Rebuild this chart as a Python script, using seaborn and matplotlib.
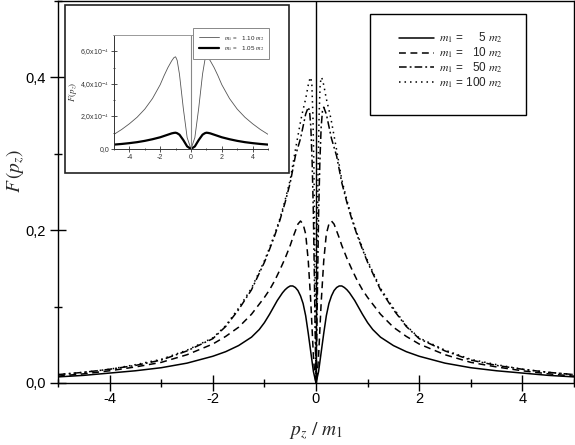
import numpy as np
import pandas as pd
import matplotlib
matplotlib.use('Agg')
import matplotlib.pyplot as plt
import seaborn as sns
from matplotlib.patches import Rectangle
from matplotlib.ticker import FuncFormatter, MultipleLocator

# main curves, p_z/m_1 >= 0 (curves are symmetric about 0)
x_m5 = [0, 0.05, 0.1, 0.15, 0.2, 0.25, 0.3, 0.35, 0.4, 0.45, 0.5, 0.55, 0.6, 0.65, 0.7,
        0.75, 0.8, 0.9, 1.0, 1.1, 1.25, 1.5, 1.75, 2.0, 2.5, 3.0, 3.5, 4.0, 4.5, 5.0]
F_m5 = [0, 0.015, 0.040, 0.065, 0.088, 0.104, 0.114, 0.121, 0.125, 0.127, 0.127, 0.125,
        0.122, 0.118, 0.113, 0.108, 0.102, 0.090, 0.079, 0.070, 0.060, 0.049, 0.041,
        0.035, 0.026, 0.020, 0.016, 0.013, 0.010, 0.008]

x_m10 = [0, 0.025, 0.05, 0.075, 0.1, 0.15, 0.2, 0.25, 0.3, 0.35, 0.4, 0.45, 0.5, 0.6,
         0.7, 0.8, 0.9, 1.0, 1.25, 1.5, 1.75, 2.0, 2.5, 3.0, 3.5, 4.0, 4.5, 5.0]
F_m10 = [0, 0.012, 0.035, 0.070, 0.105, 0.160, 0.195, 0.208, 0.212, 0.208, 0.199, 0.190,
         0.180, 0.163, 0.148, 0.134, 0.122, 0.112, 0.090, 0.073, 0.061, 0.051, 0.037,
         0.027, 0.021, 0.016, 0.012, 0.009]

x_m50 = [0, 0.01, 0.03, 0.05, 0.075, 0.1, 0.125, 0.15, 0.2, 0.25, 0.3, 0.4, 0.5, 0.6,
         0.7, 0.8, 0.9, 1.0, 1.25, 1.5, 1.75, 2.0, 2.5, 3.0, 3.5, 4.0, 4.5, 5.0]
F_m50 = [0, 0.04, 0.13, 0.22, 0.29, 0.335, 0.356, 0.361, 0.352, 0.336, 0.320, 0.297,
         0.262, 0.236, 0.213, 0.193, 0.175, 0.158, 0.122, 0.096, 0.074, 0.058, 0.042,
         0.030, 0.023, 0.018, 0.014, 0.011]

x_m100 = [0, 0.01, 0.02, 0.04, 0.06, 0.08, 0.1, 0.12, 0.15, 0.2, 0.27, 0.3, 0.4, 0.5,
          0.6, 0.7, 0.8, 0.9, 1.0, 1.25, 1.5, 1.75, 2.0, 2.5, 3.0, 3.5, 4.0, 4.5, 5.0]
F_m100 = [0, 0.08, 0.16, 0.28, 0.35, 0.39, 0.400, 0.398, 0.390, 0.372, 0.352, 0.342,
          0.305, 0.266, 0.239, 0.215, 0.195, 0.177, 0.160, 0.124, 0.098, 0.075, 0.059,
          0.043, 0.031, 0.024, 0.018, 0.014, 0.011]

labels = ['$m_1$ =     5 $m_2$', '$m_1$ =   10 $m_2$',
          '$m_1$ =   50 $m_2$', '$m_1$ = 100 $m_2$']

# inset curves
x_in = [0, 0.25, 0.5, 0.75, 0.9, 1.0, 1.1, 1.25, 1.5, 1.75, 2.0, 2.5, 3.0, 3.5, 4.0,
        4.5, 5.0]
F_in_110 = [0, 0.7, 2.5, 4.6, 5.45, 5.66, 5.62, 5.42, 5.0, 4.5, 3.95, 3.1, 2.45, 1.95,
            1.55, 1.2, 0.9]
F_in_105 = [0, 0.16, 0.55, 0.88, 0.97, 1.0, 0.99, 0.96, 0.88, 0.80, 0.72, 0.60, 0.50,
            0.42, 0.36, 0.31, 0.27]
in_labels = ['$m_1$ =   1.10 $m_2$', '$m_1$ =   1.05 $m_2$']


def mirror(x, y):
    x = np.asarray(x, float)
    y = np.asarray(y, float)
    return np.concatenate([-x[::-1], x[1:]]), np.concatenate([y[::-1], y[1:]])


sns.set_style('ticks')
plt.rcParams['font.family'] = ['Liberation Sans', 'DejaVu Sans']
plt.rcParams['mathtext.fontset'] = 'stix'

W, H = 575, 445
fig = plt.figure(figsize=(W / 100, H / 100), dpi=100)
ax = fig.add_axes([58 / W, 1 - 383 / H, 516 / W, 382 / H])

styles = ['-', (0, (4.5, 3)), (0, (5, 2, 1.2, 2)), (0, (1, 2.6))]
for (xs, ys), lab, ls in zip([(x_m5, F_m5), (x_m10, F_m10), (x_m50, F_m50), (x_m100, F_m100)],
                             labels, styles):
    xx, yy = mirror(xs, ys)
    sns.lineplot(x=xx, y=yy, ax=ax, color='black', lw=1.1, linestyle=ls,
                 estimator=None, sort=False, label=lab)

ax.axvline(0, color='black', lw=1.0)
ax.set_xlim(-5, 5)
ax.set_ylim(0, 0.5)
ax.xaxis.set_major_locator(MultipleLocator(2))
ax.xaxis.set_minor_locator(MultipleLocator(1))
ax.yaxis.set_major_locator(MultipleLocator(0.2))
ax.yaxis.set_minor_locator(MultipleLocator(0.1))
ax.yaxis.set_major_formatter(FuncFormatter(lambda v, p: f'{v:.1f}'.replace('.', ',')))
ax.xaxis.set_major_formatter(FuncFormatter(lambda v, p: f'{v:.0f}'))
ax.tick_params(which='major', direction='inout', length=11, width=1, labelsize=10.5,
               color='black', labelcolor='black')
ax.tick_params(which='minor', direction='inout', length=6, width=1, color='black')
ax.tick_params(axis='x', pad=1)
for s in ax.spines.values():
    s.set_color('black')
    s.set_linewidth(1.0)
ax.set_xlabel(r'$p_z\ /\ m_1$', fontsize=14)
ax.set_ylabel(r'$F\,(p_z)$', fontsize=14)
ax.xaxis.set_label_coords(0.5, -(420 - 383) / 382)
ax.yaxis.set_label_coords((27 - 58) / 516, 1 - 170 / 382)

# main legend with its own frame
fig.patches.append(Rectangle((370 / W, 1 - 115 / H), 156 / W, 101 / H,
                             transform=fig.transFigure, fill=False,
                             edgecolor='black', lw=1.0))
ax.legend(loc='upper left', bbox_to_anchor=(393 / W, 1 - 25 / H),
          bbox_transform=fig.transFigure, frameon=False, fontsize=8.5,
          handlelength=3.0, handletextpad=0.4, labelspacing=0.02, borderpad=0)

# inset
fig.patches.append(Rectangle((65 / W, 1 - 173 / H), 224 / W, 168 / H,
                             transform=fig.transFigure, facecolor='white',
                             edgecolor='#222222', lw=1.2, zorder=1))
axi = fig.add_axes([114 / W, 1 - 149 / H, 154 / W, 114 / H], zorder=2)
xx, yy = mirror(x_in, F_in_110)
sns.lineplot(x=xx, y=yy, ax=axi, color='#555555', lw=0.6, estimator=None, sort=False,
             label=in_labels[0])
xx, yy = mirror(x_in, F_in_105)
sns.lineplot(x=xx, y=yy, ax=axi, color='black', lw=1.6, estimator=None, sort=False,
             label=in_labels[1])
axi.axvline(0, color='#888888', lw=0.8)
axi.set_xlim(-5, 5)
axi.set_ylim(0, 7)
axi.xaxis.set_major_locator(MultipleLocator(2))
axi.xaxis.set_minor_locator(MultipleLocator(1))
axi.yaxis.set_major_locator(MultipleLocator(2))
axi.yaxis.set_minor_locator(MultipleLocator(1))
axi.yaxis.set_major_formatter(FuncFormatter(
    lambda v, p: '0,0' if v == 0 else f'{v:.1f}'.replace('.', ',') + 'x10$^{-4}$'))
axi.xaxis.set_major_formatter(FuncFormatter(lambda v, p: f'{v:.0f}'))
axi.tick_params(which='major', direction='inout', length=4, width=0.6, labelsize=5,
                pad=1.5, color='#333333', labelcolor='#333333')
axi.tick_params(which='minor', direction='inout', length=2, width=0.6, color='#333333')
axi.spines['right'].set_visible(False)
axi.spines['top'].set_color('#999999')
axi.spines['left'].set_color('#333333')
axi.spines['bottom'].set_color('#333333')
for s in axi.spines.values():
    s.set_linewidth(0.7)
axi.set_xlabel('')
axi.set_ylabel(r'$F(p_z)$', fontsize=6.5, color='#333333', labelpad=1)

leg_in = axi.legend(loc='upper left', bbox_to_anchor=(193 / W, 1 - 28 / H),
                    bbox_transform=fig.transFigure, frameon=True, fancybox=False,
                    edgecolor='#888888', framealpha=1, fontsize=4.5,
                    handlelength=3.2, handletextpad=0.8, labelspacing=0.3,
                    borderpad=0.9, borderaxespad=0)
leg_in.get_frame().set_linewidth(0.7)

fig.savefig('out.png', dpi=100)
